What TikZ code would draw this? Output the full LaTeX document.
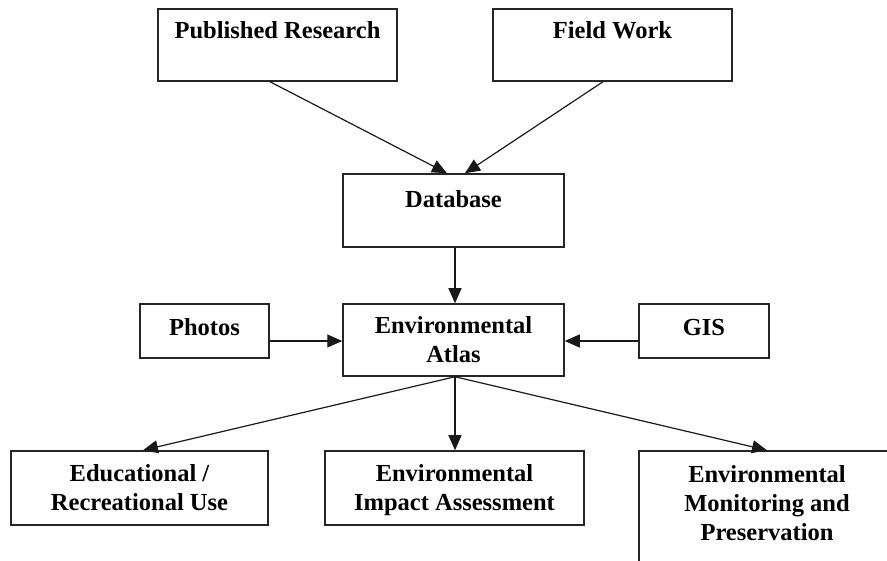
\documentclass[tikz,border=0pt]{standalone}
\usepackage{fontspec}
\setmainfont{Liberation Serif}
\usetikzlibrary{arrows.meta}
\begin{document}
\begin{tikzpicture}[x=1pt,y=-1pt,
  box/.style={draw=black!85, line width=1.5pt, inner sep=0pt},
  lbl/.style={font=\bfseries\fontsize{24.5}{29}\selectfont, align=center, anchor=base, inner sep=0pt},
  conn/.style={draw=black!90, line width=1.2pt, -{Triangle[length=15pt,width=13pt]}}]
\useasboundingbox (0,0) rectangle (887,561);
\clip (0,0) rectangle (887,561);
\fill[white] (0,0) rectangle (887,561);
% boxes
\node[box, minimum width=239pt, minimum height=72pt] (pub) at (277.5,45) {};
\node[box, minimum width=239pt, minimum height=72pt] (field) at (612.5,45) {};
\node[box, minimum width=221pt, minimum height=73pt] (db) at (453.5,210.5) {};
\node[box, minimum width=221pt, minimum height=72pt] (atlas) at (453.5,340) {};
\node[box, minimum width=129pt, minimum height=54pt] (photos) at (204.5,331) {};
\node[box, minimum width=130pt, minimum height=54pt] (gis) at (704,331) {};
\node[box, minimum width=257pt, minimum height=74pt] (edu) at (139.5,488) {};
\node[box, minimum width=259pt, minimum height=74pt] (impact) at (454.5,488) {};
\node[box, minimum width=256pt, minimum height=124pt] (monitor) at (767,513) {};
% labels (anchor = baseline of the last line)
\node[lbl] (publbl) at (277.5,39) {Published Research};
\node[lbl] (fieldlbl) at (612.5,39) {Field Work};
\node[lbl] (dblbl) at (453.5,208) {Database};
\node[lbl] (atlaslbl) at (453.5,363) {Environmental\\Atlas};
\node[lbl] (photoslbl) at (204.5,336) {Photos};
\node[lbl] (gislbl) at (704,336) {GIS};
\node[lbl] (edulbl) at (139.5,511) {Educational /\\Recreational Use};
\node[lbl] (impactlbl) at (454.5,511) {Environmental\\Impact Assessment};
\node[lbl] (monitorlbl) at (767,540) {Environmental\\Monitoring and\\Preservation};
% connectors
\coordinate (atlasout) at ([xshift=1.5pt]atlas.south);
\draw[conn] ([xshift=-7.5pt]pub.south) -- ([xshift=-6.5pt]db.north);
\draw[conn] ([xshift=-9.5pt]field.south) -- ([xshift=11.5pt]db.north);
\draw[conn] ([xshift=1.5pt]db.south) -- ([xshift=1.5pt]atlas.north);
\draw[conn] ([yshift=-10pt]photos.east) -- ([yshift=-10pt]photos.east -| atlas.west);
\draw[conn] ([yshift=-10pt]gis.west) -- ([yshift=-10pt]gis.west -| atlas.east);
\draw[conn] (atlasout) -- ([xshift=3.5pt]edu.north);
\draw[conn] (atlasout) -- (atlasout |- impact.north);
\draw[conn] (atlasout) -- (monitor.north);
\end{tikzpicture}
\end{document}
